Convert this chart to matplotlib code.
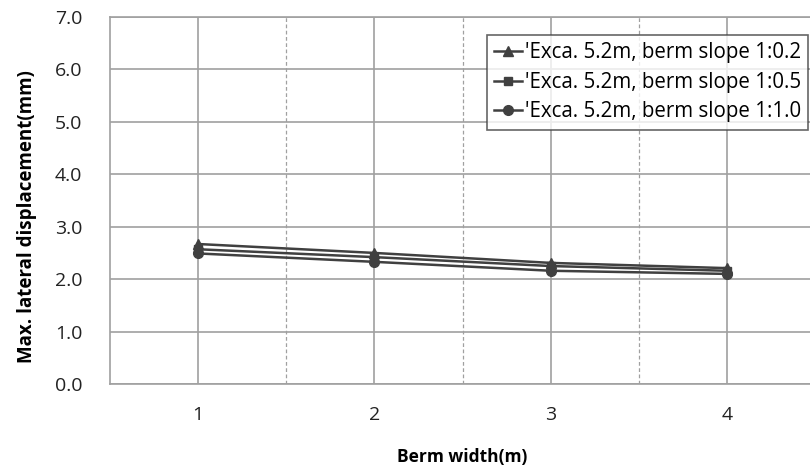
import numpy as np
import matplotlib.pyplot as plt
from matplotlib.ticker import MultipleLocator

plt.rcParams['font.family'] = ['Open Sans', 'DejaVu Sans']

berm = [1, 2, 3, 4]
slope_02 = [2.67, 2.50, 2.31, 2.21]
slope_05 = [2.57, 2.42, 2.25, 2.16]
slope_10 = [2.49, 2.33, 2.16, 2.10]
labels = ["'Exca. 5.2m, berm slope 1:0.2",
          "'Exca. 5.2m, berm slope 1:0.5",
          "'Exca. 5.2m, berm slope 1:1.0"]

fig = plt.figure(figsize=(8.1, 4.72), dpi=100)
ax = fig.add_axes([110/810, 1-384/472, 705/810, 367/472])

col = '#404040'
ax.plot(berm, slope_02, color=col, lw=1.8, marker='^', ms=7, label=labels[0])
ax.plot(berm, slope_05, color=col, lw=1.8, marker='s', ms=6, label=labels[1])
ax.plot(berm, slope_10, color=col, lw=1.8, marker='o', ms=7, label=labels[2])

ax.set_xlim(0.5, 4.5)
ax.set_ylim(0, 7)
ax.set_xticks(berm)
ax.set_xticks([1.5, 2.5, 3.5], minor=True)
ax.yaxis.set_major_locator(MultipleLocator(1))
ax.yaxis.set_major_formatter(lambda v, p: f'{v:.1f}')

ax.grid(which='major', axis='both', color='#a0a0a0', lw=1.2)
ax.grid(which='minor', axis='x', color='#a0a0a0', lw=0.9, ls=(0, (3, 2)))
ax.set_axisbelow(True)
for s in ax.spines.values():
    s.set_color('#a0a0a0')
    s.set_linewidth(1.2)
ax.spines['right'].set_visible(False)

ax.tick_params(which='both', length=0, labelsize=14, colors='#222222')
ax.tick_params(axis='y', pad=20)
ax.tick_params(axis='x', pad=16)
ax.set_xlabel('Berm width(m)', fontsize=12.5, fontweight='bold', labelpad=17)
ax.set_ylabel('Max. lateral displacement(mm)', fontsize=13.5, fontweight='bold')
ax.yaxis.set_label_coords(-0.104, 0.455)

leg = ax.legend(loc='upper right', bbox_to_anchor=(808/810, 1-35/472),
                bbox_transform=fig.transFigure, fontsize=14.8, frameon=True,
                fancybox=False, edgecolor='#404040', handlelength=1.35,
                handletextpad=0.15, borderaxespad=0, labelspacing=0.42,
                borderpad=0.35)
leg.get_frame().set_linewidth(1.2)

fig.savefig('out.png', dpi=100)
